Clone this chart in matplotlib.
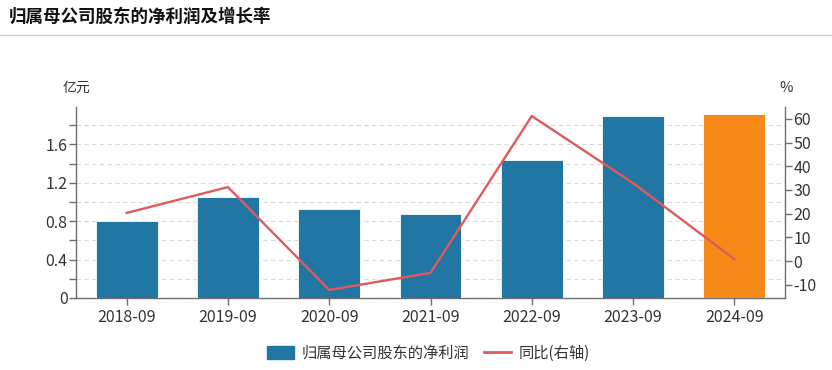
import matplotlib
matplotlib.use("Agg")
import matplotlib.pyplot as plt
from matplotlib.lines import Line2D
from matplotlib.patches import Patch
import numpy as np

plt.rcParams['font.family'] = ['Noto Sans CJK SC', 'DejaVu Sans']

categories = ["2018-09", "2019-09", "2020-09", "2021-09", "2022-09", "2023-09", "2024-09"]
profit = [0.80, 1.05, 0.925, 0.88, 1.44, 1.90, 1.92]
yoy = [20.3, 31.2, -12.2, -5.0, 61.2, 32.9, 0.8]
left_ticks = [0, 0.2, 0.4, 0.6, 0.8, 1.0, 1.2, 1.4, 1.6, 1.8]
left_labels = ["0", "", "0.4", "", "0.8", "", "1.2", "", "1.6", ""]
right_ticks = [-10, 0, 10, 20, 30, 40, 50, 60]

blue = "#2276a3"
orange = "#f58a18"
red = "#e05a5c"
axis_gray = "#6e6e6e"
text_gray = "#333333"

W, H = 832, 370
fig = plt.figure(figsize=(W / 100, H / 100), dpi=100)

ax = fig.add_axes([76 / W, 1 - 298 / H, (785 - 76) / W, (298 - 107) / H])
x = np.arange(len(categories))
colors = [blue] * (len(categories) - 1) + [orange]
ax.bar(x, profit, width=0.61, color=colors, edgecolor="white", linewidth=0.6, zorder=3)
ax.set_xlim(-0.5, len(categories) - 0.5)
ax.set_ylim(0, 1.99)
ax.set_yticks(left_ticks)
ax.set_yticklabels(left_labels)
ax.set_xticks(x)
ax.set_xticklabels(categories)
for t in left_ticks[1:]:
    ax.axhline(t, color="#d9d9d9", linestyle=(0, (4, 3)), linewidth=0.8, zorder=1)

for s in ["top", "right"]:
    ax.spines[s].set_visible(False)
for s in ["left", "bottom"]:
    ax.spines[s].set_color(axis_gray)
    ax.spines[s].set_linewidth(1.0)
ax.tick_params(axis="both", colors=axis_gray, labelcolor=text_gray, labelsize=11.5, length=5, width=1.0)
ax.tick_params(axis="x", pad=3)
ax.tick_params(axis="y", pad=1)

ax2 = ax.twinx()
ax2.plot(x, yoy, color=red, linewidth=1.7, zorder=4)
ax2.set_ylim(-15.6, 65)
ax2.set_yticks(right_ticks)
ax2.set_yticklabels([str(v) for v in right_ticks])
for s in ["top", "left", "bottom"]:
    ax2.spines[s].set_visible(False)
ax2.spines["right"].set_color(axis_gray)
ax2.spines["right"].set_linewidth(1.0)
ax2.tick_params(axis="y", colors=axis_gray, labelcolor=text_gray, labelsize=11.5, length=5, width=1.0, pad=1)

fig.text(76 / W, 1 - 88 / H, "亿元", ha="center", va="center", fontsize=10, color=text_gray)
fig.text(786 / W, 1 - 88 / H, "%", ha="center", va="center", fontsize=10.5, color=text_gray)

fig.text(9 / W, 1 - 17 / H, "归属母公司股东的净利润及增长率", ha="left", va="center",
         fontsize=12.6, fontweight="bold", color="#111111")
fig.add_artist(Line2D([0, 1], [1 - 35 / H, 1 - 35 / H], transform=fig.transFigure,
                      color="#cccccc", linewidth=1.0))

handles = [Patch(facecolor=blue, edgecolor=blue, label="归属母公司股东的净利润"),
           Line2D([0], [0], color=red, linewidth=2, label="同比(右轴)")]
fig.legend(handles=handles, loc="center", bbox_to_anchor=(428.5 / W, 1 - 353 / H), ncol=2,
           frameon=False, fontsize=11, handlelength=1.75, handleheight=0.9, handletextpad=0.5,
           columnspacing=1.0, labelcolor=text_gray)

fig.savefig("out.png", dpi=100)
